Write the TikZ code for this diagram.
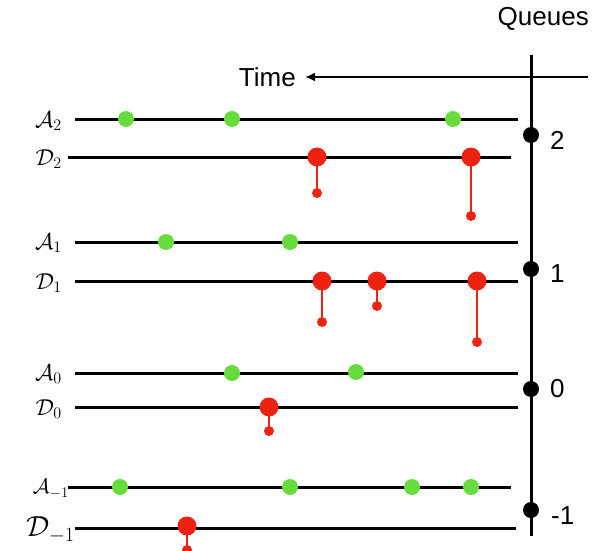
\RequirePackage{fix-cm}
\documentclass[tikz,border=0pt]{standalone}
\usepackage{fontspec}
\newfontfamily\hfont{Liberation Sans}
\usetikzlibrary{arrows.meta}
\definecolor{dotgreen}{RGB}{102,221,60}
\definecolor{dotred}{RGB}{238,34,17}
\begin{document}
\begin{tikzpicture}[x=1pt,y=-1pt,
  track/.style={line width=3pt},
  axisline/.style={line width=3pt},
  arrdot/.style={circle,fill=dotgreen,inner sep=0pt,minimum size=16pt},
  depdot/.style={circle,fill=dotred,inner sep=0pt,minimum size=19pt},
  tipdot/.style={circle,fill=dotred,inner sep=0pt,minimum size=10pt},
  qdot/.style={circle,fill=black,inner sep=0pt,minimum size=16pt},
  stem/.style={draw=dotred,line width=2.5pt},
  sanslbl/.style={font=\hfont\fontsize{26}{29}\selectfont,inner sep=0pt},
  mathlbl/.style={anchor=east,inner sep=0pt,font=\fontsize{23}{26}\selectfont}
]
\useasboundingbox (0,0) rectangle (592,551);

% header
\node[sanslbl,anchor=east] (queues) at (589,19) {Queues};
\coordinate (tstart) at (588,77);
\node[sanslbl,anchor=east] (time) at (296,77) {Time};
\draw[line width=2.5pt,-{Latex[length=10pt,width=9pt]}] (tstart) -- ([xshift=9pt]time.east);

% axis
\coordinate (axtop) at (531,55);
\coordinate (axbot) at (531,536);
\draw[axisline] (axtop) -- (axbot);
\node[qdot] (q2) at (531,135) {};
\node[qdot] (q1) at (531,269) {};
\node[qdot] (q0) at (531,389) {};
\node[qdot] (qm1) at (531,510) {};
\node[sanslbl,anchor=west] (l2) at (550,140) {2};
\node[sanslbl,anchor=west] (l1) at (550,274) {1};
\node[sanslbl,anchor=west] (l0) at (550,389) {0};
\node[sanslbl,anchor=west] (lm1) at (551,516) {-1};

% tracks
\coordinate (a2s) at (75,119);  \coordinate (a2e) at (518,119);
\coordinate (d2s) at (68,157);  \coordinate (d2e) at (511,157);
\coordinate (a1s) at (75,242);  \coordinate (a1e) at (518,242);
\coordinate (d1s) at (75,281);  \coordinate (d1e) at (518,281);
\coordinate (a0s) at (75,373);  \coordinate (a0e) at (518,373);
\coordinate (d0s) at (75,407);  \coordinate (d0e) at (518,407);
\coordinate (ams) at (68,487);  \coordinate (ame) at (511,487);
\coordinate (dms) at (75,528);  \coordinate (dme) at (516,528);
\foreach \s/\e in {a2s/a2e,d2s/d2e,a1s/a1e,d1s/d1e,a0s/a0e,d0s/d0e,ams/ame,dms/dme}
  \draw[track] (\s) -- (\e);

% labels
\node[mathlbl] (la2) at (62,121) {$\mathcal{A}_2$};
\node[mathlbl] (ld2) at (62,159) {$\mathcal{D}_2$};
\node[mathlbl] (la1) at (62,243) {$\mathcal{A}_1$};
\node[mathlbl] (ld1) at (62,283) {$\mathcal{D}_1$};
\node[mathlbl] (la0) at (62,374) {$\mathcal{A}_0$};
\node[mathlbl] (ld0) at (62,409) {$\mathcal{D}_0$};
\node[mathlbl,font=\fontsize{21}{24}\selectfont] (lam) at (69,489) {$\mathcal{A}_{-1}$};
\node[mathlbl,font=\fontsize{29}{32}\selectfont] (ldm) at (75,530) {$\mathcal{D}_{-1}$};

% arrivals
\node[arrdot] (g21) at (126,119) {};
\node[arrdot] (g22) at (232,119) {};
\node[arrdot] (g23) at (453,119) {};
\node[arrdot] (g11) at (166,242) {};
\node[arrdot] (g12) at (290,242) {};
\node[arrdot] (g01) at (232,373) {};
\node[arrdot] (g02) at (356,372) {};
\node[arrdot] (gm1) at (120,487) {};
\node[arrdot] (gm2) at (290,487) {};
\node[arrdot] (gm3) at (412,487) {};
\node[arrdot] (gm4) at (471,487) {};

% departures
\node[tipdot] (t21) at (317,193) {};
\node[tipdot] (t22) at (471,216) {};
\node[tipdot] (t11) at (322,322) {};
\node[tipdot] (t12) at (377,306) {};
\node[tipdot] (t13) at (477,342) {};
\node[tipdot] (t01) at (269,431) {};
\node[tipdot] (tm1) at (187,550) {};
\node[depdot] (r21) at (317,157) {};
\node[depdot] (r22) at (471,157) {};
\node[depdot] (r11) at (322,281) {};
\node[depdot] (r12) at (377,281) {};
\node[depdot] (r13) at (477,281) {};
\node[depdot] (r01) at (269,407) {};
\node[depdot] (rm1) at (187,526) {};
\foreach \a/\b in {r21/t21,r22/t22,r11/t11,r12/t12,r13/t13,r01/t01,rm1/tm1}
  \draw[stem] (\a.center) -- (\b.center);
\end{tikzpicture}
\end{document}
